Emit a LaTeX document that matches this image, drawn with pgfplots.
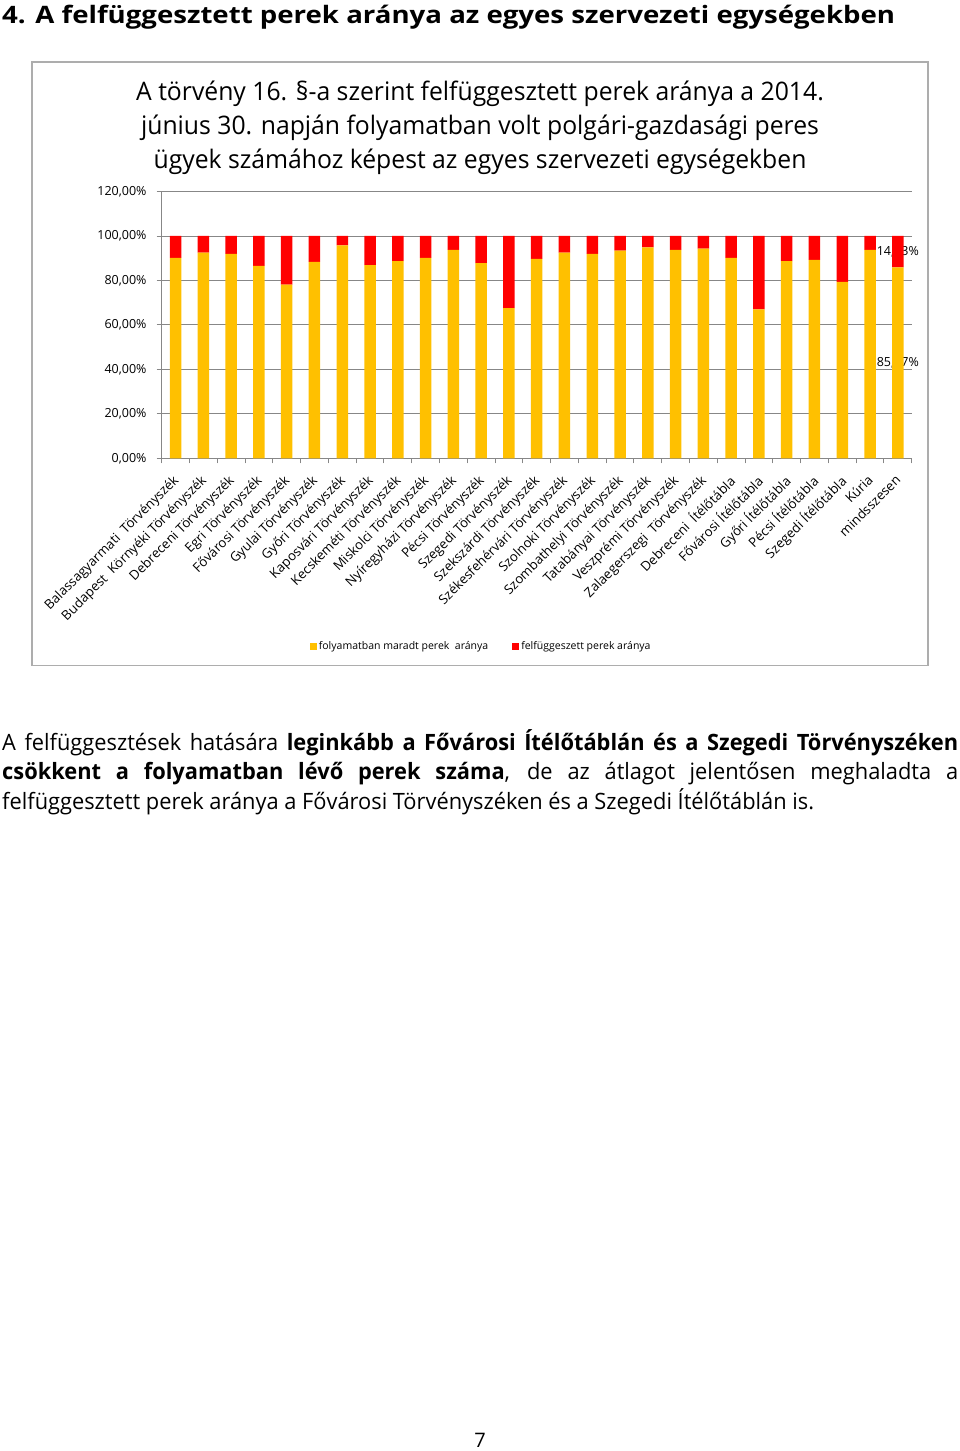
\documentclass[border=0pt]{standalone}
\usepackage{pgfplots}
\pgfplotsset{compat=1.18}
\usepackage{fontspec}
\setmainfont{Open Sans}
\newfontfamily\headfont[FakeStretch=1.15]{Open Sans}
\newfontfamily\titlefont[FakeStretch=0.97]{Open Sans}
\newfontfamily\parfont[FakeStretch=0.97]{Open Sans}
\definecolor{cyellow}{HTML}{FFC000}
\definecolor{cred}{HTML}{FF0000}
\definecolor{axisgray}{HTML}{878787}
\definecolor{bordergray}{HTML}{ADADAD}
\begin{document}
\begin{tikzpicture}
\useasboundingbox (0pt,0pt) rectangle (960pt,-1451pt);
% heading
\node[anchor=base west, inner sep=0pt] at (2pt,-23.5pt)
  {\headfont\bfseries\fontsize{24}{28}\selectfont 4. A felfüggesztett perek aránya az egyes szervezeti egységekben};
% chart border
\draw[bordergray, line width=1.4pt] (32pt,-62pt) rectangle (928pt,-665.7pt);
% chart title
\node[anchor=base, inner sep=0pt] at (480pt,-100pt)
  {\titlefont\fontsize{25.5}{30}\selectfont A törvény 16. §-a szerint felfüggesztett perek aránya a 2014.};
\node[anchor=base, inner sep=0pt] at (480pt,-134pt)
  {\titlefont\fontsize{25.5}{30}\selectfont június 30. napján folyamatban volt polgári-gazdasági peres};
\node[anchor=base, inner sep=0pt] at (480pt,-168pt)
  {\titlefont\fontsize{25.5}{30}\selectfont ügyek számához képest az egyes szervezeti egységekben};
\begin{axis}[
  at={(161.7pt,-458.3pt)}, anchor=south west, scale only axis,
  width=750pt, height=266.8pt, clip=false,
  ybar stacked, bar width=11.5pt,
  xmin=-0.5, xmax=26.5, ymin=0, ymax=1.2,
  axis x line*=bottom, axis y line*=left,
  axis line style={draw=axisgray, line width=0.9pt, -},
  ytick={0,0.2,0.4,0.6,0.8,1.0,1.2},
  yticklabels={{0,00\%},{20,00\%},{40,00\%},{60,00\%},{80,00\%},{100,00\%},{120,00\%}},
  ymajorgrids, grid style={draw=axisgray, line width=0.9pt},
  tick align=outside, major tick length=5pt,
  tick style={draw=axisgray, line width=0.9pt},
  xtick={-0.5,0.5,...,26.5}, xticklabels={},
  extra x ticks={0,1,...,26},
  extra x tick labels={Balassagyarmati\ \ Törvényszék, Budapest\ \ Környéki Törvényszék, Debreceni Törvényszék, Egri Törvényszék, Fővárosi Törvényszék, Gyulai Törvényszék, Győri Törvényszék, Kaposvári Törvényszék, Kecskeméti Törvényszék, Miskolci Törvényszék, Nyíregyházi Törvényszék, Pécsi Törvényszék, Szegedi Törvényszék, Szekszárdi Törvényszék, Székesfehérvári Törvényszék, Szolnoki Törvényszék, Szombathelyi Törvényszék, Tatabányai Törvényszék, Veszprémi Törvényszék, Zalaegerszegi\ \ Törvényszék, Debreceni\ \ Ítélőtábla, Fővárosi Ítélőtábla, Győri Ítélőtábla, Pécsi Ítélőtábla, Szegedi Ítélőtábla, Kúria, mindsszesen},
  extra x tick style={major tick length=0pt, grid=none},
  xticklabel style={xshift=-3.5pt, yshift=-14pt, rotate=45, anchor=north east, font=\fontsize{13.2}{15}\selectfont, inner sep=1pt},
  yticklabel style={font=\fontsize{12.5}{14}\selectfont, inner sep=2pt, xshift=-8pt},
  legend style={at={(0.426,-0.7035)}, anchor=center, draw=none, fill=none,
    legend columns=2, font=\fontsize{10.5}{12}\selectfont,
    /tikz/every even column/.append style={column sep=22pt}, inner sep=0pt},
  legend image code/.code={\fill[#1] (0pt,-3.5pt) rectangle (7pt,3.5pt);},
]
\addplot[fill=cyellow, draw=none] coordinates {
(0,0.901) (1,0.925) (2,0.920) (3,0.865) (4,0.781) (5,0.883) (6,0.958) (7,0.869) (8,0.887) (9,0.901)
(10,0.938) (11,0.878) (12,0.676) (13,0.897) (14,0.925) (15,0.920) (16,0.934) (17,0.949) (18,0.938) (19,0.943)
(20,0.901) (21,0.670) (22,0.887) (23,0.893) (24,0.794) (25,0.938) (26,0.8587)};
\addlegendentry{folyamatban maradt perek\ \ aránya}
\addplot[fill=cred, draw=none] coordinates {
(0,0.099) (1,0.075) (2,0.080) (3,0.135) (4,0.219) (5,0.117) (6,0.042) (7,0.131) (8,0.113) (9,0.099)
(10,0.062) (11,0.122) (12,0.324) (13,0.103) (14,0.075) (15,0.080) (16,0.066) (17,0.051) (18,0.062) (19,0.057)
(20,0.099) (21,0.330) (22,0.113) (23,0.107) (24,0.206) (25,0.062) (26,0.1413)};
\addlegendentry{felfüggeszett perek aránya}
\node[font=\fontsize{12.5}{14}\selectfont, inner sep=0pt] at (axis cs:26,0.9294) {14,13\%};
\node[font=\fontsize{12.5}{14}\selectfont, inner sep=0pt] at (axis cs:26,0.4294) {85,87\%};
\end{axis}
% paragraph
\node[anchor=base west, inner sep=0pt] at (2pt,-750pt)
  {\parfont\fontsize{22.5}{29.5}\selectfont\makebox[956pt][s]{A felfüggesztések hatására \textbf{leginkább a Fővárosi Ítélőtáblán és a Szegedi Törvényszéken}}};
\node[anchor=base west, inner sep=0pt] at (2pt,-779.5pt)
  {\parfont\fontsize{22.5}{29.5}\selectfont\makebox[956pt][s]{\textbf{csökkent a folyamatban lévő perek száma}, de az átlagot jelentősen meghaladta a}};
\node[anchor=base west, inner sep=0pt] at (2pt,-809pt)
  {\parfont\fontsize{22.5}{29.5}\selectfont felfüggesztett perek aránya a Fővárosi Törvényszéken és a Szegedi Ítélőtáblán is.};
% page number
\node[anchor=base, inner sep=0pt] at (480pt,-1447pt) {\fontsize{20}{24}\selectfont 7};
\end{tikzpicture}
\end{document}
